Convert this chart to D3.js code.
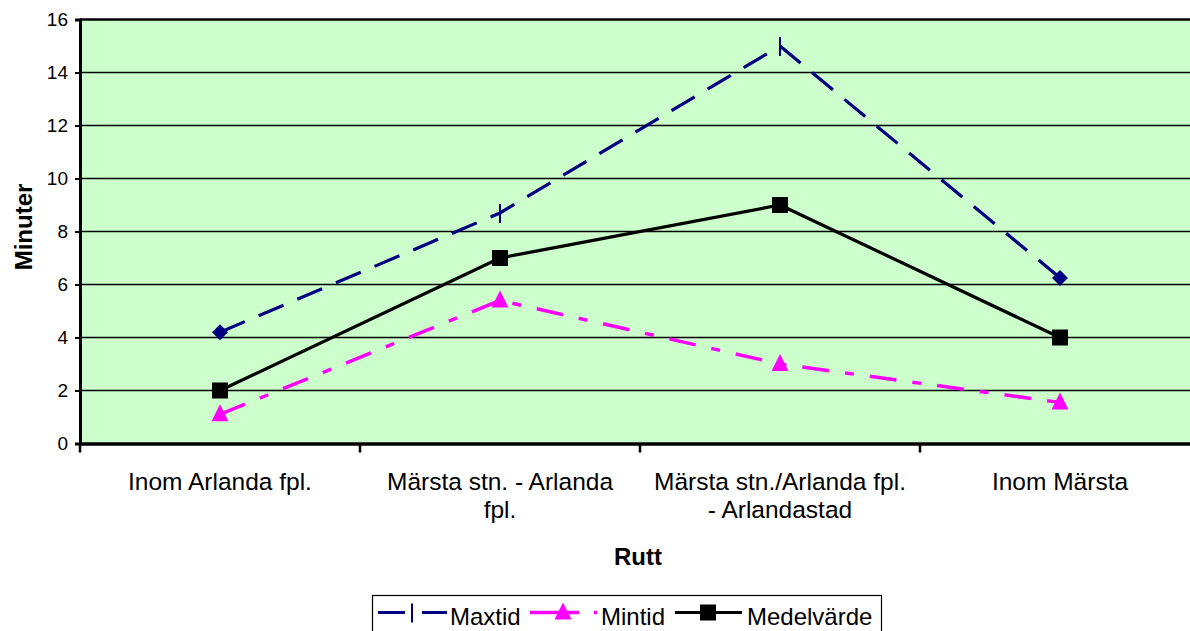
<!DOCTYPE html>
<html>
<head>
<meta charset="utf-8">
<script src="https://cdn.jsdelivr.net/npm/d3@7"></script>
<style>
  body { margin: 0; background: #fff; }
  svg { display: block; font-family: "Liberation Sans", Arial, sans-serif; }
</style>
</head>
<body>
<div id="chart"></div>
<script>
const categories = ["Inom Arlanda fpl.", "Märsta stn. - Arlanda fpl.", "Märsta stn./Arlanda fpl. - Arlandastad", "Inom Märsta"]
const categoryLines = [["Inom Arlanda fpl."], ["Märsta stn. - Arlanda", "fpl."], ["Märsta stn./Arlanda fpl.", "- Arlandastad"], ["Inom Märsta"]]
const maxtid = [4.2, 8.7, 15, 6.25]
const mintid = [1.1, 5.4, 3.0, 1.55]
const medelvarde = [2, 7, 9, 4]
const yTicks = [0, 2, 4, 6, 8, 10, 12, 14, 16]

var width = 1190, height = 631
var margin = {left: 80, top: 19.5, plotRight: 1200, plotBottom: 443.5}

var svg = d3.select("#chart").append("svg")
    .attr("width", width)
    .attr("height", height)

var xScale = d3.scaleBand()
    .domain(categories)
    .range([margin.left, margin.plotRight])
var yScale = d3.scaleLinear()
    .domain([0, 16])
    .range([margin.plotBottom, margin.top])

// plot background
svg.append("rect")
    .attr("x", margin.left)
    .attr("y", margin.top)
    .attr("width", margin.plotRight - margin.left)
    .attr("height", margin.plotBottom - margin.top)
    .attr("fill", "#ccffcc")

// gridlines
svg.append("g")
    .selectAll("line")
    .data(yTicks.filter(d => d > 0))
    .enter().append("line")
    .attr("x1", margin.left).attr("x2", margin.plotRight)
    .attr("y1", d => yScale(d)).attr("y2", d => yScale(d))
    .attr("stroke", "#000")
    .attr("stroke-width", d => d == 16 ? 2.5 : 1.4)

// y axis
var yAxis = d3.axisLeft(yScale).tickValues(yTicks).tickSize(5).tickPadding(7)
var gy = svg.append("g")
    .attr("transform", "translate(" + margin.left + ",0)")
    .call(yAxis)
gy.attr("font-size", 19).attr("font-family", "Liberation Sans, Arial, sans-serif")
gy.select(".domain").attr("stroke-width", 3)
gy.selectAll(".tick line").attr("stroke-width", 2)
gy.selectAll("text").attr("fill", "#000")

// x axis
var xAxis = d3.axisBottom(xScale).tickSize(0).tickFormat("")
var gx = svg.append("g")
    .attr("transform", "translate(0," + margin.plotBottom + ")")
    .call(xAxis)
gx.select(".domain").attr("stroke-width", 3.5)

// x ticks between categories
svg.append("g")
    .selectAll("line")
    .data(categories.concat(["end"]))
    .enter().append("line")
    .attr("x1", (d, i) => i < categories.length ? xScale(d) : xScale(categories[3]) + xScale.bandwidth())
    .attr("x2", (d, i) => i < categories.length ? xScale(d) : xScale(categories[3]) + xScale.bandwidth())
    .attr("y1", margin.plotBottom)
    .attr("y2", margin.plotBottom + 9)
    .attr("stroke", "#000")
    .attr("stroke-width", 2.5)

// category labels
categories.forEach(function(c, i) {
    var t = svg.append("text")
        .attr("x", xScale(c) + xScale.bandwidth() / 2)
        .attr("y", 490)
        .attr("text-anchor", "middle")
        .attr("font-size", 24.5)
        .attr("fill", "#000")
    categoryLines[i].forEach(function(line, j) {
        t.append("tspan")
            .attr("x", xScale(c) + xScale.bandwidth() / 2)
            .attr("dy", j == 0 ? 0 : 27.5)
            .text(line)
    })
})

// axis titles
svg.append("text")
    .attr("transform", "translate(32,227)rotate(-90)")
    .attr("text-anchor", "middle")
    .attr("font-size", 24)
    .attr("font-weight", "bold")
    .text("Minuter")
svg.append("text")
    .attr("x", 638)
    .attr("y", 565)
    .attr("text-anchor", "middle")
    .attr("font-size", 24)
    .attr("font-weight", "bold")
    .text("Rutt")

var line = d3.line()
    .x((d, i) => xScale(categories[i]) + xScale.bandwidth() / 2)
    .y(d => yScale(d))

// Maxtid
svg.append("path")
    .datum(maxtid)
    .attr("d", line)
    .attr("fill", "none")
    .attr("stroke", "#000080")
    .attr("stroke-width", 3.2)
    .attr("stroke-dasharray", "27,15")
svg.append("g").selectAll("path")
    .data(maxtid)
    .enter().append("path")
    .attr("transform", (d, i) => "translate(" + (xScale(categories[i]) + xScale.bandwidth() / 2) + "," + yScale(d) + ")")
    .attr("d", (d, i) => (i == 0 || i == 3) ? "M0,-8L8,0L0,8L-8,0Z" : "M-1,-9V10h2V-9z")
    .attr("fill", "#000080")

// Mintid
svg.append("path")
    .datum(mintid)
    .attr("d", line)
    .attr("fill", "none")
    .attr("stroke", "#ff00ff")
    .attr("stroke-width", 3.5)
    .attr("stroke-dasharray", "27,16,9,16")
svg.append("g").selectAll("path")
    .data(mintid)
    .enter().append("path")
    .attr("transform", (d, i) => "translate(" + (xScale(categories[i]) + xScale.bandwidth() / 2) + "," + yScale(d) + ")")
    .attr("d", "M0,-10L8.5,7H-8.5Z")
    .attr("fill", "#ff00ff")

// Medelvärde
svg.append("path")
    .datum(medelvarde)
    .attr("d", line)
    .attr("fill", "none")
    .attr("stroke", "#000")
    .attr("stroke-width", 3.2)
svg.append("g").selectAll("rect")
    .data(medelvarde)
    .enter().append("rect")
    .attr("x", (d, i) => xScale(categories[i]) + xScale.bandwidth() / 2 - 8)
    .attr("y", d => yScale(d) - 8)
    .attr("width", 16)
    .attr("height", 16)
    .attr("fill", "#000")

// legend
svg.append("rect")
    .attr("x", 372.5).attr("y", 595.5)
    .attr("width", 509).attr("height", 40)
    .attr("fill", "#fff").attr("stroke", "#000").attr("stroke-width", 1.2)
var ly = 612.5
// Maxtid
svg.append("line").attr("x1", 378).attr("x2", 405).attr("y1", ly).attr("y2", ly).attr("stroke", "#000080").attr("stroke-width", 3)
svg.append("line").attr("x1", 422).attr("x2", 447).attr("y1", ly).attr("y2", ly).attr("stroke", "#000080").attr("stroke-width", 3)
svg.append("rect").attr("x", 411).attr("y", ly - 9).attr("width", 2).attr("height", 19).attr("fill", "#000080")
svg.append("text").attr("x", 450).attr("y", ly + 12).attr("font-size", 24).text("Maxtid")
// Mintid
svg.append("line").attr("x1", 530).attr("x2", 579).attr("y1", ly).attr("y2", ly).attr("stroke", "#ff00ff").attr("stroke-width", 3.5)
svg.append("line").attr("x1", 594).attr("x2", 597).attr("y1", ly).attr("y2", ly).attr("stroke", "#ff00ff").attr("stroke-width", 3.5)
svg.append("path").attr("transform", "translate(563," + ly + ")").attr("d", "M0,-10L8.5,7H-8.5Z").attr("fill", "#ff00ff")
svg.append("text").attr("x", 601).attr("y", ly + 12).attr("font-size", 24).text("Mintid")
// Medelvärde
svg.append("line").attr("x1", 675).attr("x2", 742).attr("y1", ly).attr("y2", ly).attr("stroke", "#000").attr("stroke-width", 3)
svg.append("rect").attr("x", 700).attr("y", ly - 8).attr("width", 16).attr("height", 16).attr("fill", "#000")
svg.append("text").attr("x", 747).attr("y", ly + 12).attr("font-size", 24).text("Medelvärde")
</script>
</body>
</html>
